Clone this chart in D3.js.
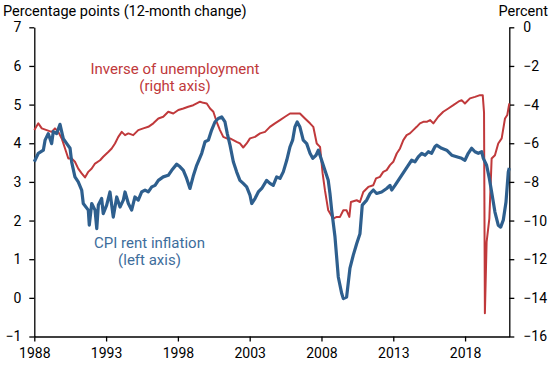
<!DOCTYPE html>
<html>
<head>
<meta charset="utf-8">
<script src="https://cdn.jsdelivr.net/npm/d3@7"></script>
<style>
  html, body { margin: 0; padding: 0; background: #fff; }
  svg { display: block; font-family: Roboto, "Noto Sans", sans-serif; }
</style>
</head>
<body>
<svg id="chart" width="550" height="365"></svg>
<script>
// X-axis tick labels
const xTicks = [1988, 1993, 1998, 2003, 2008, 2013, 2018];
const leftTicks = [-1, 0, 1, 2, 3, 4, 5, 6, 7];
const rightTicks = [-16, -14, -12, -10, -8, -6, -4, -2, 0];

// CPI rent inflation, 12-month change (left axis)
const cpiYear = [1988.00,1988.28,1988.63,1988.75,1988.97,1989.21,1989.32,1989.56,1989.79,1990.02,1990.26,1990.49,1990.60,1990.83,1991.06,1991.30,1991.41,1991.76,1991.83,1992.00,1992.23,1992.35,1992.46,1992.69,1992.80,1993.04,1993.27,1993.50,1993.74,1993.97,1994.20,1994.32,1994.55,1994.78,1995.01,1995.24,1995.48,1995.71,1995.94,1996.18,1996.41,1996.64,1996.98,1997.33,1997.57,1997.92,1998.15,1998.38,1998.61,1998.84,1999.07,1999.31,1999.66,1999.89,2000.12,2000.35,2000.58,2000.81,2001.05,2001.28,2001.44,2001.63,2001.86,2002.09,2002.32,2002.55,2002.79,2003.02,2003.14,2003.37,2003.60,2003.84,2004.18,2004.41,2004.64,2004.88,2005.11,2005.34,2005.58,2005.81,2005.99,2006.15,2006.31,2006.50,2006.73,2006.97,2007.20,2007.39,2007.62,2007.78,2008.01,2008.24,2008.47,2008.59,2008.71,2008.94,2009.17,2009.41,2009.52,2009.75,2009.98,2010.21,2010.45,2010.68,2010.84,2011.15,2011.38,2011.61,2011.84,2012.19,2012.54,2012.77,2012.89,2013.12,2013.35,2013.58,2013.81,2014.04,2014.28,2014.51,2014.74,2014.98,2015.21,2015.44,2015.67,2015.90,2016.02,2016.37,2016.72,2017.07,2017.41,2017.76,2017.99,2018.22,2018.46,2018.69,2018.92,2019.16,2019.27,2019.50,2019.69,2019.85,2020.08,2020.31,2020.48,2020.66,2020.85,2021.01,2021.08];
const cpiValue = [3.52,3.74,3.82,4.08,4.25,3.99,4.30,4.25,4.49,4.12,3.99,3.87,3.52,3.13,3.00,2.79,2.44,2.27,1.88,2.44,2.27,1.79,2.40,2.57,2.18,2.40,2.74,2.09,2.61,2.35,2.53,2.74,2.44,2.27,2.61,2.53,2.74,2.79,2.74,2.87,2.91,3.04,3.13,3.17,3.30,3.46,3.39,3.30,3.09,2.83,3.15,3.43,3.74,4.04,4.08,4.34,4.55,4.64,4.68,4.55,4.25,3.95,3.52,3.26,3.04,2.96,2.87,2.66,2.44,2.57,2.74,2.83,3.04,2.96,2.91,3.13,3.09,3.26,3.56,3.91,4.08,4.42,4.55,4.42,4.08,3.99,3.74,3.61,3.69,3.82,3.56,3.30,3.04,2.70,2.27,1.58,0.54,0.11,-0.02,0.02,0.76,1.10,1.40,1.66,2.40,2.53,2.70,2.79,2.70,2.74,2.83,2.91,2.79,2.91,3.04,3.17,3.30,3.43,3.56,3.52,3.65,3.74,3.69,3.78,3.74,3.91,3.95,3.87,3.82,3.69,3.65,3.61,3.56,3.74,3.87,3.78,3.74,3.78,3.61,3.43,3.09,2.74,2.22,1.88,1.83,2.01,2.48,3.26,3.36];

// Inverse of unemployment rate, percent (right axis)
const unempYear = [1988.00,1988.28,1988.52,1988.86,1989.21,1989.44,1989.67,1989.91,1990.14,1990.37,1990.60,1990.83,1991.06,1991.30,1991.53,1991.76,1992.00,1992.23,1992.58,1992.80,1993.15,1993.39,1993.62,1993.85,1994.09,1994.32,1994.55,1994.89,1995.24,1995.59,1995.94,1996.29,1996.64,1996.98,1997.33,1997.68,1998.03,1998.38,1998.72,1999.07,1999.31,1999.54,1999.77,2000.01,2000.24,2000.47,2000.70,2000.93,2001.16,2001.40,2001.63,2001.86,2002.09,2002.32,2002.55,2002.79,2003.02,2003.37,2003.72,2004.07,2004.41,2004.76,2005.11,2005.46,2005.81,2006.15,2006.50,2006.85,2007.20,2007.43,2007.67,2007.90,2008.08,2008.24,2008.47,2008.82,2009.06,2009.29,2009.52,2009.75,2009.94,2010.05,2010.45,2010.68,2010.91,2011.26,2011.61,2011.80,2012.07,2012.30,2012.54,2012.77,2013.00,2013.24,2013.47,2013.70,2013.93,2014.16,2014.39,2014.63,2014.86,2015.09,2015.33,2015.56,2015.79,2016.13,2016.48,2016.83,2017.18,2017.53,2017.76,2017.99,2018.34,2018.69,2019.04,2019.23,2019.32,2019.38,2019.50,2019.69,2019.85,2020.08,2020.31,2020.55,2020.78,2020.94,2021.08];
const unempValue = [-5.32,-4.97,-5.23,-5.32,-5.41,-5.23,-5.41,-5.75,-6.27,-6.79,-6.79,-6.96,-7.31,-7.56,-7.77,-7.48,-7.31,-7.05,-6.88,-6.70,-6.45,-6.27,-6.01,-5.67,-5.41,-5.58,-5.49,-5.58,-5.32,-5.23,-5.15,-4.97,-4.72,-4.63,-4.37,-4.46,-4.28,-4.20,-4.11,-4.03,-3.94,-3.85,-3.91,-3.94,-4.20,-4.37,-4.89,-5.32,-5.67,-5.75,-5.75,-5.84,-5.93,-6.01,-6.22,-6.01,-5.75,-5.67,-5.49,-5.41,-5.15,-4.97,-4.80,-4.63,-4.46,-4.46,-4.46,-4.72,-4.97,-5.15,-6.01,-6.19,-7.56,-8.43,-9.47,-9.90,-9.81,-9.81,-9.47,-9.47,-9.81,-9.04,-8.95,-9.04,-8.52,-8.26,-8.17,-7.82,-7.74,-7.48,-7.39,-7.13,-6.96,-6.53,-6.27,-5.84,-5.58,-5.49,-5.32,-5.15,-4.97,-4.89,-4.89,-4.80,-4.97,-4.63,-4.37,-4.20,-4.03,-3.85,-3.77,-3.94,-3.68,-3.60,-3.51,-3.51,-4.40,-14.80,-11.11,-9.90,-6.79,-6.62,-6.01,-5.75,-4.72,-4.54,-3.94];

const cpiColor = "#2e5f8e";
const unempColor = "#c0393b";

const svg = d3.select("#chart");
const plotL = 34.3, plotR = 509.3, plotT = 27.3, plotB = 336.5;

const x = d3.scaleLinear().domain([1988, 2021.08]).range([plotL, plotR]);
const yL = d3.scaleLinear().domain([-1, 7]).range([plotB, plotT]);
const yR = d3.scaleLinear().domain([-16, 0]).range([plotB, plotT]);

// Axes
const axisStyle = g => {
  g.selectAll("path, line").attr("stroke", "#000").attr("stroke-width", 1.3);
  g.selectAll("text").attr("fill", "#000").style("font-size", "14px").style("font-family", "Roboto, sans-serif");
};

svg.append("g")
  .attr("transform", `translate(0,${plotB})`)
  .call(d3.axisBottom(x).tickValues(xTicks).tickFormat(d3.format("d")).tickSize(5).tickSizeOuter(0).tickPadding(7))
  .call(axisStyle);

svg.append("g")
  .attr("transform", `translate(${plotL},0)`)
  .call(d3.axisLeft(yL).tickValues(leftTicks).tickFormat(d3.format("d")).tickSize(5).tickSizeOuter(0).tickPadding(8))
  .call(axisStyle);

svg.append("g")
  .attr("transform", `translate(${plotR},0)`)
  .call(d3.axisRight(yR).tickValues(rightTicks).tickFormat(d3.format("d")).tickSize(5).tickSizeOuter(0).tickPadding(9))
  .call(axisStyle);

// Lines
const unempLine = d3.line().x(d => x(d[0])).y(d => yR(d[1]));
const cpiLine = d3.line().x(d => x(d[0])).y(d => yL(d[1]));

svg.append("path")
  .datum(d3.zip(unempYear, unempValue))
  .attr("fill", "none")
  .attr("stroke", unempColor)
  .attr("stroke-width", 2)
  .attr("stroke-linejoin", "round")
  .attr("d", unempLine);

svg.append("path")
  .datum(d3.zip(cpiYear, cpiValue))
  .attr("fill", "none")
  .attr("stroke", cpiColor)
  .attr("stroke-width", 3.2)
  .attr("stroke-linejoin", "round")
  .attr("d", cpiLine);

// Titles
svg.append("text").attr("x", 3).attr("y", 15.5)
  .style("font-size", "14.5px").attr("fill", "#000")
  .text("Percentage points (12-month change)");
svg.append("text").attr("x", 548).attr("y", 15.5).attr("text-anchor", "end")
  .style("font-size", "14.5px").attr("fill", "#000")
  .text("Percent");

// Annotations
const ann = svg.append("g").style("font-size", "15px").attr("text-anchor", "middle");
ann.append("text").attr("x", 175).attr("y", 73.5).attr("fill", unempColor).text("Inverse of unemployment");
ann.append("text").attr("x", 175).attr("y", 90.5).attr("fill", unempColor).text("(right axis)");
ann.append("text").attr("x", 149.5).attr("y", 247.5).attr("fill", "#3d6d9c").text("CPI rent inflation");
ann.append("text").attr("x", 149.5).attr("y", 264.5).attr("fill", "#3d6d9c").text("(left axis)");
</script>
</body>
</html>
